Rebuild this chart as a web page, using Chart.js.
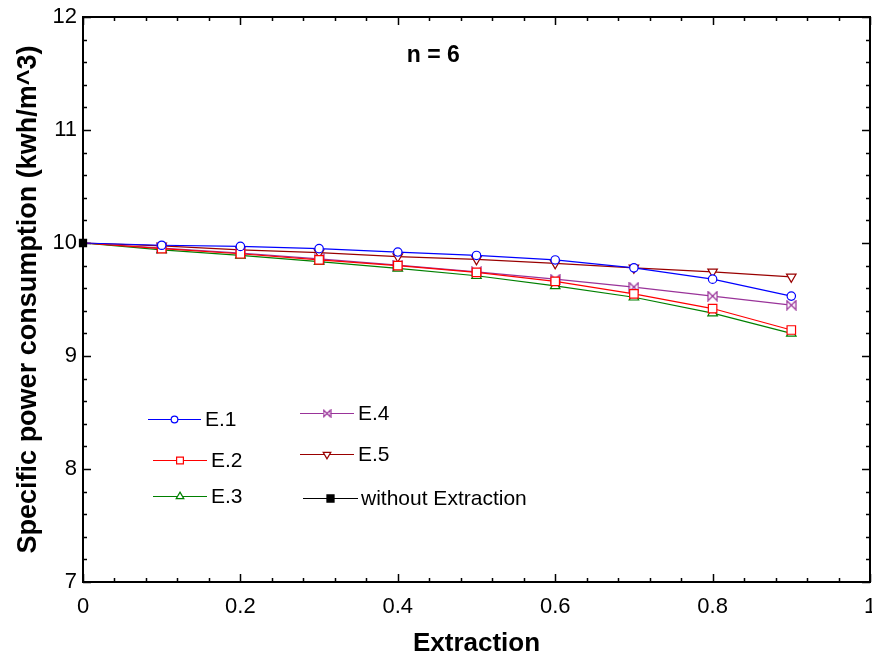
<!DOCTYPE html>
<html>
<head>
<meta charset="utf-8">
<title>Specific power consumption vs extraction</title>
<script src="https://cdn.jsdelivr.net/npm/chart.js@4.4.1/dist/chart.umd.min.js"></script>
<style>
  html, body { margin: 0; padding: 0; background: #fff; }
  #wrap { width: 872px; height: 659px; }
</style>
</head>
<body>
<div id="wrap"><canvas id="spcChart" width="872" height="659"></canvas></div>
<script>
// values (n = 6)
const extraction = [0, 0.1, 0.2, 0.3, 0.4, 0.5, 0.6, 0.7, 0.8, 0.9];
const e1 = [10, 9.98, 9.97, 9.95, 9.92, 9.89, 9.85, 9.78, 9.68, 9.53];
const e2 = [10, 9.95, 9.905, 9.85, 9.80, 9.74, 9.66, 9.55, 9.42, 9.23];
const e3 = [10, 9.94, 9.89, 9.835, 9.775, 9.71, 9.62, 9.52, 9.38, 9.20];
const e4 = [10, 9.955, 9.91, 9.86, 9.805, 9.745, 9.68, 9.61, 9.53, 9.45];
const e5 = [10, 9.975, 9.94, 9.915, 9.88, 9.855, 9.82, 9.78, 9.745, 9.70];
const noExtractionX = [0];
const noExtractionY = [10];
const seriesLabels = ["E.1", "E.2", "E.3", "E.4", "E.5", "without Extraction"];
const xTickValues = [0, 0.2, 0.4, 0.6, 0.8, 1];
const yTickValues = [7, 8, 9, 10, 11, 12];
const noteText = "n = 6";

const FONT = "'Liberation Sans', Arial, sans-serif";

function toPoints(xs, ys) {
  return xs.map((v, i) => ({ x: v, y: ys[i] }));
}

// bowtie marker (not built in)
function bowtie(color, size) {
  const c = document.createElement("canvas");
  c.width = size;
  c.height = size;
  const g = c.getContext("2d");
  const a = 1, b = size - 1;
  g.fillStyle = "#fff";
  g.strokeStyle = color;
  g.lineWidth = 1.2;
  g.beginPath();
  g.moveTo(a, a);
  g.lineTo(b, b);
  g.lineTo(b, a);
  g.lineTo(a, b);
  g.closePath();
  g.fill();
  g.stroke();
  return c;
}

const purple = "#993399";
const darkRed = "#990000";

function series(label, ys, color, style, radius, rotation) {
  return {
    label: label,
    data: toPoints(extraction, ys),
    borderColor: color,
    backgroundColor: "#fff",
    borderWidth: 1.2,
    pointStyle: style,
    pointRotation: rotation || 0,
    pointRadius: (c) => (c.dataIndex === 0 ? 0 : radius),
    pointBorderWidth: 1.2,
    legendRadius: radius * 0.8,
    tension: 0,
    clip: false,
  };
}

// tick marks inside the frame + frame box
const frameTicks = {
  id: "frameTicks",
  beforeDatasetsDraw(chart) {
    const { ctx, chartArea: a, scales } = chart;
    const x = scales.x, y = scales.y;
    ctx.save();
    ctx.strokeStyle = "#000";
    ctx.lineWidth = 1.5;
    ctx.beginPath();
    for (let i = 0; i <= 25; i++) {
      const px = Math.round(x.getPixelForValue(i * 0.04)) + 0.5;
      const len = i % 5 === 0 ? 8 : 4;
      ctx.moveTo(px, a.bottom);
      ctx.lineTo(px, a.bottom - len);
      ctx.moveTo(px, a.top);
      ctx.lineTo(px, a.top + len);
    }
    for (let j = 0; j <= 25; j++) {
      const py = Math.round(y.getPixelForValue(7 + j * 0.2)) + 0.5;
      const len = j % 5 === 0 ? 8 : 4;
      ctx.moveTo(a.left, py);
      ctx.lineTo(a.left + len, py);
      ctx.moveTo(a.right, py);
      ctx.lineTo(a.right - len, py);
    }
    ctx.stroke();
    ctx.lineWidth = 2;
    ctx.strokeRect(a.left, a.top, a.right - a.left, a.bottom - a.top);
    ctx.restore();
  },
  afterDatasetsDraw(chart) {
    const { ctx, scales } = chart;
    ctx.save();
    // note text
    ctx.fillStyle = "#000";
    ctx.font = "bold 23px " + FONT;
    ctx.textAlign = "center";
    ctx.textBaseline = "middle";
    ctx.fillText(noteText, scales.x.getPixelForValue(0.445), scales.y.getPixelForValue(11.66));

    // hand placed legend, two columns inside the plot
    const slots = [
      { x0: 148, x1: 201, y: 419, tx: 205 },
      { x0: 153, x1: 207, y: 460, tx: 211 },
      { x0: 153, x1: 207, y: 496, tx: 211 },
      { x0: 300, x1: 354, y: 413, tx: 358 },
      { x0: 300, x1: 354, y: 454, tx: 358 },
      { x0: 303, x1: 358, y: 498, tx: 361 },
    ];
    chart.data.datasets.forEach((ds, i) => {
      const s = slots[i];
      ctx.strokeStyle = ds.borderColor;
      ctx.fillStyle = ds.backgroundColor;
      ctx.lineWidth = 1.2;
      ctx.beginPath();
      ctx.moveTo(s.x0, s.y + 0.5);
      ctx.lineTo(s.x1, s.y + 0.5);
      ctx.stroke();
      const st = ds.legendStyle || ds.pointStyle;
      Chart.helpers.drawPoint(ctx, {
        pointStyle: st,
        radius: ds.legendRadius,
        rotation: ds.pointRotation || 0,
        borderWidth: 1.2,
      }, (s.x0 + s.x1) / 2, s.y + 0.5);
      ctx.fillStyle = "#000";
      ctx.font = "21px " + FONT;
      ctx.textAlign = "left";
      ctx.textBaseline = "middle";
      ctx.fillText(ds.label, s.tx, s.y + 1);
    });
    ctx.restore();
  },
};

const datasets = [
  series(seriesLabels[0], e1, "#0000ff", "circle", 4.2),
  series(seriesLabels[1], e2, "#ff0000", "rect", 6),
  series(seriesLabels[2], e3, "#008000", "triangle", 5.5),
  Object.assign(series(seriesLabels[3], e4, purple, bowtie(purple, 11), 5.5), {
    legendStyle: bowtie(purple, 9),
  }),
  series(seriesLabels[4], e5, darkRed, "triangle", 5.5, 180),
  {
    label: seriesLabels[5],
    data: toPoints(noExtractionX, noExtractionY),
    borderColor: "#000",
    backgroundColor: "#000",
    borderWidth: 1.2,
    pointStyle: "rect",
    pointRadius: 5,
    legendRadius: 5,
    clip: false,
    order: -1,
  },
];

new Chart(document.getElementById("spcChart"), {
  type: "line",
  data: { datasets: datasets },
  options: {
    responsive: false,
    animation: false,
    devicePixelRatio: 1,
    layout: { autoPadding: false, padding: { left: 0, right: 2, top: 17, bottom: 0 } },
    plugins: {
      legend: { display: false },
      tooltip: { enabled: false },
    },
    scales: {
      x: {
        type: "linear",
        min: 0,
        max: 1,
        afterBuildTicks: (s) => { s.ticks = xTickValues.map((v) => ({ value: v })); },
        afterFit: (s) => {
          s.height = 77;
          s.paddingLeft = 0;
          s.paddingRight = 0;
        },
        grid: { display: false, drawTicks: false, tickLength: 0 },
        border: { display: false },
        ticks: {
          padding: 12,
          color: "#000",
          font: { family: FONT, size: 22 },
          maxRotation: 0,
          callback: (v) => String(Math.round(v * 10) / 10),
        },
        title: {
          display: true,
          text: "Extraction",
          color: "#000",
          font: { family: FONT, size: 26, weight: "bold" },
          padding: { top: 4, bottom: 0 },
        },
      },
      y: {
        type: "linear",
        min: 7,
        max: 12,
        afterBuildTicks: (s) => { s.ticks = yTickValues.map((v) => ({ value: v })); },
        afterFit: (s) => {
          s.width = 83;
          s.paddingTop = 0;
          s.paddingBottom = 0;
        },
        grid: { display: false, drawTicks: false, tickLength: 0 },
        border: { display: false },
        ticks: {
          padding: 6,
          color: "#000",
          font: { family: FONT, size: 22 },
          callback: (v) => String(v),
        },
        title: {
          display: true,
          text: "Specific power consumption (kwh/m^3)",
          color: "#000",
          font: { family: FONT, size: 27, weight: "bold" },
          padding: { top: 12, bottom: 0 },
        },
      },
    },
  },
  plugins: [frameTicks],
});
</script>
</body>
</html>
